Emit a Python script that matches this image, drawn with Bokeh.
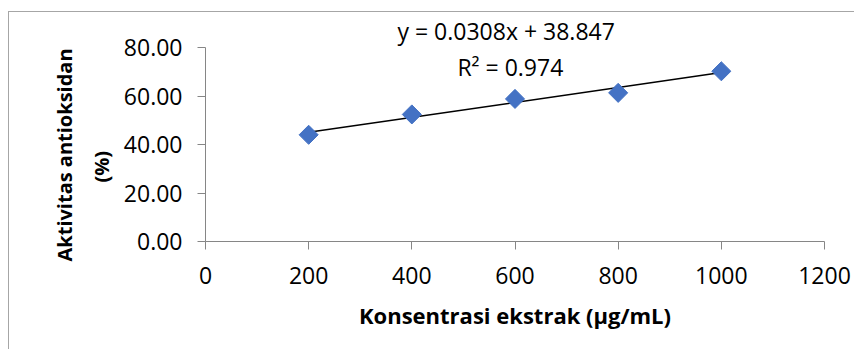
from bokeh.plotting import figure
from bokeh.models import Range1d, FixedTicker, NumeralTickFormatter, Label, ColumnDataSource, Title
from bokeh.embed import file_html
from bokeh.resources import INLINE
import numpy as np

# data
konsentrasi = [200, 400, 600, 800, 1000]
aktivitas = [44.0, 52.4, 58.8, 61.3, 70.2]
slope = 0.0308
intercept = 38.847
r2 = 0.974
x_ticks = [0, 200, 400, 600, 800, 1000, 1200]
y_ticks = [0, 20, 40, 60, 80]
x_title = "Konsentrasi ekstrak (µg/mL)"
y_title_lines = ["Aktivitas antioksidan", "(%)"]

FONT = "Open Sans"
GRAY = "#868686"

p = figure(width=846, height=338, output_backend="svg", toolbar_location=None,
           x_range=Range1d(0, 1200), y_range=Range1d(0, 80),
           min_border_left=197, min_border_right=30, min_border_top=35, min_border_bottom=108,
           margin=(11, 0, 0, 8),
           styles={"box-shadow": "inset 1px 1px 0 0 #a6a6a6"})
p.border_fill_color = None
p.background_fill_color = None
p.xgrid.visible = False
p.ygrid.visible = False
p.outline_line_color = None

eq_title = Title(text=f"y = {slope}x + {intercept}", align="left", offset=192, standoff=2,
                 text_font=FONT, text_font_size="23px", text_font_style="normal", text_color="black")
p.add_layout(eq_title, "above")

for ax in (p.xaxis[0], p.yaxis[0]):
    ax.axis_line_color = GRAY
    ax.major_tick_line_color = GRAY
    ax.minor_tick_line_color = None
    ax.major_tick_out = 8
    ax.major_tick_in = 0
    ax.major_label_text_font = FONT
    ax.major_label_text_font_size = "23px"
    ax.major_label_text_color = "#000000"
    ax.axis_label_text_font = FONT
    ax.axis_label_text_font_size = "22px"
    ax.axis_label_text_font_style = "bold"
    ax.axis_label_text_color = "#000000"

p.xaxis.ticker = FixedTicker(ticks=x_ticks)
p.yaxis.ticker = FixedTicker(ticks=y_ticks)
p.yaxis.formatter = NumeralTickFormatter(format="0.00")
p.xaxis.formatter = NumeralTickFormatter(format="0")
p.xaxis.major_label_standoff = 17
p.yaxis.major_label_standoff = 15
p.xaxis.axis_label = x_title
p.xaxis.axis_label_standoff = 13

# y-axis title as two left-side titles (inner line first)
t2 = Title(text=y_title_lines[1], align="left", offset=59, standoff=12,
           text_font=FONT, text_font_size="20px", text_font_style="bold", text_color="black")
t1 = Title(text=y_title_lines[0], align="left", offset=-20, standoff=3,
           text_font=FONT, text_font_size="20px", text_font_style="bold", text_color="black")
p.add_layout(t2, "left")
p.add_layout(t1, "left")

# trendline from equation
tx = [min(konsentrasi), max(konsentrasi)]
ty = [slope * v + intercept for v in tx]
p.line(tx, ty, line_color="black", line_width=1.5)

src = ColumnDataSource(dict(x=konsentrasi, y=aktivitas))
p.scatter("x", "y", source=src, marker="square", size=13.5, angle=np.pi / 4,
          fill_color="#4472C4", line_color="#4472C4")

rr = Label(x=591, y=72.0, text=f"R² = {r2}", text_font=FONT,
           text_font_size="23px", text_align="center", text_baseline="middle", text_color="black")
p.add_layout(rr)

open("out.html", "w").write(file_html(p, INLINE))
